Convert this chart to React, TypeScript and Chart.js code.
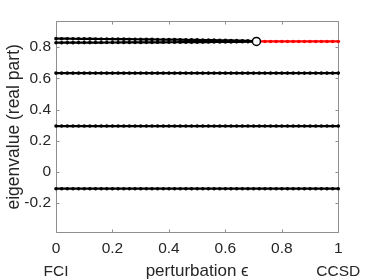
import React, { useEffect, useRef } from 'react';
import { Chart, registerables } from 'chart.js';

Chart.register(...registerables);

const FONT = "'Liberation Sans', Arial, Helvetica, sans-serif";
const TEXT = '#262626';
const AXIS = '#8f8f8f';

// perturbation parameter grid
const eps = [0, 0.02, 0.04, 0.06, 0.08, 0.1, 0.12, 0.14, 0.16, 0.18, 0.2, 0.22, 0.24, 0.26, 0.28, 0.3, 0.32, 0.34, 0.36, 0.38, 0.4, 0.42, 0.44, 0.46, 0.48, 0.5, 0.52, 0.54, 0.56, 0.58, 0.6, 0.62, 0.64, 0.66, 0.68, 0.7, 0.72, 0.74, 0.76, 0.78, 0.8, 0.82, 0.84, 0.86, 0.88, 0.9, 0.92, 0.94, 0.96, 0.98, 1];

// two real eigenvalues that coalesce (eps 0 .. 0.70)
const upperBranch = [0.855, 0.8547, 0.8545, 0.8542, 0.854, 0.8537, 0.8534, 0.8531, 0.8528, 0.8526, 0.8523, 0.852, 0.8516, 0.8513, 0.851, 0.8507, 0.8503, 0.85, 0.8496, 0.8493, 0.8489, 0.8485, 0.8481, 0.8477, 0.8472, 0.8468, 0.8463, 0.8458, 0.8453, 0.8447, 0.8441, 0.8434, 0.8427, 0.8418, 0.8407, 0.8391];
const lowerBranch = [0.829, 0.8291, 0.8292, 0.8293, 0.8295, 0.8296, 0.8297, 0.8298, 0.83, 0.8301, 0.8302, 0.8304, 0.8305, 0.8306, 0.8308, 0.8309, 0.8311, 0.8312, 0.8314, 0.8315, 0.8317, 0.8319, 0.8321, 0.8323, 0.8324, 0.8326, 0.8329, 0.8331, 0.8333, 0.8336, 0.8339, 0.8342, 0.8345, 0.8349, 0.8354, 0.8361];

// exceptional point
const epEps = 0.71;
const epValue = 0.837;

// complex pair real part (eps 0.72 .. 1)
const complexPart = [0.837, 0.837, 0.837, 0.837, 0.837, 0.837, 0.837, 0.837, 0.837, 0.837, 0.837, 0.837, 0.837, 0.837, 0.837];

const level3 = [0.634, 0.634, 0.634, 0.634, 0.634, 0.634, 0.634, 0.634, 0.634, 0.634, 0.634, 0.634, 0.634, 0.634, 0.634, 0.634, 0.634, 0.634, 0.634, 0.634, 0.634, 0.634, 0.634, 0.634, 0.634, 0.634, 0.634, 0.634, 0.634, 0.634, 0.634, 0.634, 0.634, 0.634, 0.634, 0.634, 0.634, 0.634, 0.634, 0.634, 0.634, 0.634, 0.634, 0.634, 0.634, 0.634, 0.634, 0.634, 0.634, 0.634, 0.634];
const level4 = [0.294, 0.294, 0.294, 0.294, 0.294, 0.294, 0.294, 0.294, 0.294, 0.294, 0.294, 0.294, 0.294, 0.294, 0.294, 0.294, 0.294, 0.294, 0.294, 0.294, 0.294, 0.294, 0.294, 0.294, 0.294, 0.294, 0.294, 0.294, 0.294, 0.294, 0.294, 0.294, 0.294, 0.294, 0.294, 0.294, 0.294, 0.294, 0.294, 0.294, 0.294, 0.294, 0.294, 0.294, 0.294, 0.294, 0.294, 0.294, 0.294, 0.294, 0.294];
const level5 = [-0.108, -0.108, -0.108, -0.108, -0.108, -0.108, -0.108, -0.108, -0.108, -0.108, -0.108, -0.108, -0.108, -0.108, -0.108, -0.108, -0.108, -0.108, -0.108, -0.108, -0.108, -0.108, -0.108, -0.108, -0.108, -0.108, -0.108, -0.108, -0.108, -0.108, -0.108, -0.108, -0.108, -0.108, -0.108, -0.108, -0.108, -0.108, -0.108, -0.108, -0.108, -0.108, -0.108, -0.108, -0.108, -0.108, -0.108, -0.108, -0.108, -0.108, -0.108];

const xTickValues = [0, 0.2, 0.4, 0.6, 0.8, 1];
const xTickLabels: (string | string[])[] = [['0', 'FCI'], '0.2', '0.4', '0.6', '0.8', ['1', 'CCSD']];
const yTickValues = [-0.2, 0, 0.2, 0.4, 0.6, 0.8];
const yTickLabels = ['-0.2', '0', '0.2', '0.4', '0.6', '0.8'];
const xTitle = 'perturbation \u03F5';
const yTitle = 'eigenvalue (real part)';

const toPts = (xs: number[], ys: number[]) => ys.map((v, i) => ({ x: xs[i], y: v }));

const boxPlugin = {
  id: 'matlabBox',
  beforeDatasetsDraw(chart: any) {
    const { ctx, chartArea: a, scales } = chart;
    const L = Math.floor(a.left) + 0.5;
    const R = Math.floor(a.right) + 0.5;
    const T = Math.floor(a.top) + 0.5;
    const B = Math.floor(a.bottom) + 0.5;
    ctx.save();
    ctx.strokeStyle = AXIS;
    ctx.lineWidth = 1;
    ctx.beginPath();
    ctx.rect(L, T, R - L, B - T);
    const tl = 3;
    xTickValues.forEach((v) => {
      const px = Math.round(scales.x.getPixelForValue(v)) + 0.5;
      ctx.moveTo(px, B);
      ctx.lineTo(px, B - tl);
      ctx.moveTo(px, T);
      ctx.lineTo(px, T + tl);
    });
    yTickValues.forEach((v) => {
      const py = Math.round(scales.y.getPixelForValue(v)) + 0.5;
      ctx.moveTo(L, py);
      ctx.lineTo(L + tl, py);
      ctx.moveTo(R, py);
      ctx.lineTo(R - tl, py);
    });
    ctx.stroke();
    ctx.restore();
  },
};

const lineDs = (label: string, data: any[], color: string) => ({
  label,
  data,
  showLine: true,
  borderColor: color,
  backgroundColor: color,
  borderWidth: 2.2,
  pointRadius: 1.8,
  pointBorderWidth: 0,
  pointBackgroundColor: color,
  clip: false as any,
});

export default function App() {
  const ref = useRef<HTMLCanvasElement | null>(null);
  useEffect(() => {
    if (!ref.current) return;
    const chart = new Chart(ref.current, {
      type: 'scatter',
      data: {
        datasets: [
          {
            label: 'exceptional point',
            data: [{ x: epEps, y: epValue }],
            showLine: false,
            pointRadius: 4,
            pointBorderWidth: 1.5,
            pointBorderColor: '#000000',
            pointBackgroundColor: '#ffffff',
            order: -1,
            clip: false as any,
          },
          lineDs('upper', [...toPts(eps, upperBranch), { x: epEps, y: epValue }], '#000000'),
          lineDs('lower', [...toPts(eps, lowerBranch), { x: epEps, y: epValue }], '#000000'),
          lineDs('complex', [{ x: epEps, y: epValue }, ...toPts(eps.slice(36), complexPart)], '#ff0000'),
          lineDs('level3', toPts(eps, level3), '#000000'),
          lineDs('level4', toPts(eps, level4), '#000000'),
          lineDs('level5', toPts(eps, level5), '#000000'),
        ],
      },
      options: {
        animation: false,
        responsive: false,
        events: [],
        layout: { padding: { left: 0, top: 21.5, right: 35.7, bottom: 0 } },
        plugins: { legend: { display: false }, tooltip: { enabled: false } },
        scales: {
          x: {
            type: 'linear',
            min: 0,
            max: 1,
            grid: { display: false, drawTicks: false },
            border: { display: false },
            afterFit: (s: any) => { s.height = 47.8; },
            afterBuildTicks: (s: any) => { s.ticks = xTickValues.map((v) => ({ value: v })); },
            ticks: {
              padding: 4.4,
              color: TEXT,
              font: { family: FONT, size: 15.5, lineHeight: 1.51 },
              maxRotation: 0,
              autoSkip: false,
              callback: (v: any) => {
                const i = xTickValues.findIndex((t) => Math.abs(t - Number(v)) < 1e-6);
                return i >= 0 ? xTickLabels[i] : '';
              },
            },
            title: {
              display: true,
              text: xTitle,
              color: TEXT,
              font: { family: FONT, size: 17, lineHeight: 1 },
              padding: { top: 0, bottom: 0 },
            },
          },
          y: {
            type: 'linear',
            min: -0.387,
            max: 0.965,
            grid: { display: false, drawTicks: false },
            border: { display: false },
            afterFit: (s: any) => { s.width = 56; },
            afterBuildTicks: (s: any) => { s.ticks = yTickValues.map((v) => ({ value: v })); },
            ticks: {
              padding: 5,
              color: TEXT,
              font: { family: FONT, size: 15.5 },
              callback: (v: any) => {
                const i = yTickValues.findIndex((t) => Math.abs(t - Number(v)) < 1e-6);
                return i >= 0 ? yTickLabels[i] : '';
              },
            },
            title: {
              display: true,
              text: yTitle,
              color: TEXT,
              font: { family: FONT, size: 17.5 },
              padding: { top: 3.5, bottom: 0 },
            },
          },
        },
      },
      plugins: [boxPlugin],
    });
    return () => chart.destroy();
  }, []);
  return (
    <div style={{ position: 'absolute', left: 0, top: 0, width: 374, height: 280, background: '#ffffff' }}>
      <canvas ref={ref} width={374} height={280} style={{ display: 'block', width: 374, height: 280 }} />
    </div>
  );
}
